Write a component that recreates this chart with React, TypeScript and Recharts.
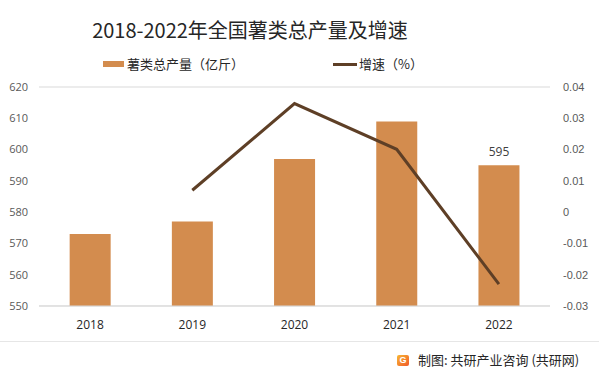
import { ComposedChart, Bar, Line, XAxis, YAxis, CartesianGrid, LabelList } from 'recharts';

const years = ['2018', '2019', '2020', '2021', '2022'];
const output = [573, 577, 597, 609, 595];
const growth: (number | null)[] = [null, 0.007, 0.0347, 0.0201, -0.023];
const leftTicks = [550, 560, 570, 580, 590, 600, 610, 620];
const rightTicks = [-0.03, -0.02, -0.01, 0, 0.01, 0.02, 0.03, 0.04];

const BAR = '#D38C4E';
const LINE = '#5E3F26';
const CJK = '"Noto Sans CJK SC", "Noto Sans", sans-serif';

const data = years.map((y, i) => ({ year: y, output: output[i], growth: growth[i] }));

const LastLabel = (props: any) => {
  const { x, y, width, value, index } = props;
  if (index !== years.length - 1) return null;
  return (
    <text x={x + width / 2} y={y - 9} textAnchor="middle" fill="#404040" fontSize={12} fontFamily="Open Sans, sans-serif">
      {value}
    </text>
  );
};

export default function App() {
  return (
    <div style={{ position: 'absolute', left: 0, top: 0, width: 599, height: 376, background: '#fff', fontFamily: CJK }}>
      <div style={{ position: 'absolute', left: 0, width: 500, top: 16, textAlign: 'center', fontSize: 20, color: '#262626', lineHeight: '28px' }}>
        2018-2022年全国薯类总产量及增速
      </div>
      <div style={{ position: 'absolute', left: 103, top: 55, display: 'flex', alignItems: 'center', fontSize: 13, color: '#262626', lineHeight: '18px' }}>
        <span style={{ display: 'inline-block', width: 21, height: 6, background: BAR, marginRight: 3 }} />
        薯类总产量（亿斤）
      </div>
      <div style={{ position: 'absolute', left: 333, top: 55, display: 'flex', alignItems: 'center', fontSize: 13, color: '#262626', lineHeight: '18px' }}>
        <span style={{ display: 'inline-block', width: 24, height: 3, background: LINE, marginRight: 2 }} />
        增速（%）
      </div>
      <ComposedChart width={599} height={376} data={data} margin={{ top: 87, right: 0, bottom: 40, left: 0 }} barCategoryGap="30%">
        <CartesianGrid vertical={false} stroke="#d9d9d9" />
        <XAxis
          dataKey="year"
          height={30}
          tickLine={false}
          axisLine={{ stroke: '#d9d9d9' }}
          tick={{ fill: '#262626', fontSize: 12, fontFamily: 'Open Sans, sans-serif' }}
          tickMargin={8}
        />
        <YAxis
          yAxisId="left"
          width={39}
          domain={[550, 620]}
          ticks={leftTicks}
          tickLine={false}
          axisLine={false}
          tickMargin={5}
          tick={{ fill: '#595959', fontSize: 11, fontFamily: 'Open Sans, sans-serif' }}
        />
        <YAxis
          yAxisId="right"
          orientation="right"
          width={49}
          domain={[-0.03, 0.04]}
          ticks={rightTicks}
          tickLine={false}
          axisLine={false}
          tickMargin={7}
          tick={{ fill: '#595959', fontSize: 11, fontFamily: 'Liberation Sans, sans-serif', textAnchor: 'start' }}
        />
        <Bar yAxisId="left" dataKey="output" fill={BAR} isAnimationActive={false}>
          <LabelList dataKey="output" content={<LastLabel />} />
        </Bar>
        <Line yAxisId="right" dataKey="growth" stroke={LINE} strokeWidth={3} dot={false} isAnimationActive={false} />
      </ComposedChart>
      <div style={{ position: 'absolute', left: 0, right: 0, top: 341, height: 1, background: '#e6e6e6' }} />
      <div style={{ position: 'absolute', left: 397, top: 352, display: 'flex', alignItems: 'center', fontSize: 13, color: '#262626', lineHeight: '16px' }}>
        <span style={{ display: 'inline-block', width: 12, height: 11, borderRadius: 2, background: 'linear-gradient(135deg, #f7b733, #f1592a)', marginRight: 9, color: '#fff', fontSize: 9, fontWeight: 700, textAlign: 'center', lineHeight: '11px', fontFamily: 'Liberation Sans, sans-serif' }}>G</span>
        制图: 共研产业咨询 (共研网)
      </div>
    </div>
  );
}
